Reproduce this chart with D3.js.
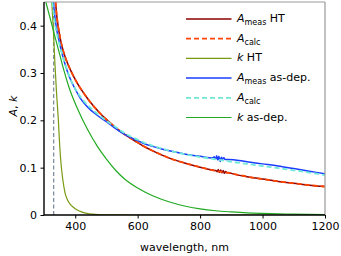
<!DOCTYPE html>
<html>
<head>
<meta charset="utf-8">
<script src="https://cdn.jsdelivr.net/npm/d3@7"></script>
<style>
  body { margin: 0; background: #fff; }
  text { font-family: "DejaVu Sans", sans-serif; }
</style>
</head>
<body>
<svg id="chart"></svg>
<script>
var width = 341;
var height = 256;
var margin = { top: 2, right: 16, bottom: 41, left: 44 };

// A_meas HT (dark red), with the noisy bit near 860 nm
var wlMeasHT = [337, 341, 345, 353, 361, 371, 385, 407, 433, 460, 480, 503, 525, 546, 575, 600, 620, 650, 680, 710, 750, 800, 840, 850, 855, 858, 862, 866, 870, 874, 878, 882, 886, 890, 900, 950, 1000, 1050, 1100, 1150, 1200];
var aMeasHT = [0.45, 0.42, 0.40, 0.37, 0.348, 0.328, 0.306, 0.278, 0.252, 0.229, 0.2145, 0.2, 0.187, 0.176, 0.163, 0.153, 0.145, 0.135, 0.126, 0.118, 0.110, 0.101, 0.095, 0.094, 0.0915, 0.096, 0.090, 0.095, 0.089, 0.094, 0.088, 0.092, 0.089, 0.090, 0.088, 0.081, 0.076, 0.071, 0.067, 0.063, 0.060];

// A_calc HT (dashed orangered)
var wlCalcHT = [337, 341, 345, 353, 361, 371, 385, 407, 433, 460, 480, 503, 525, 546, 575, 600, 620, 650, 680, 710, 750, 800, 850, 900, 950, 1000, 1050, 1100, 1150, 1200];
var aCalcHT = [0.45, 0.42, 0.40, 0.37, 0.348, 0.328, 0.306, 0.278, 0.252, 0.229, 0.2145, 0.2, 0.187, 0.176, 0.163, 0.153, 0.145, 0.135, 0.126, 0.118, 0.110, 0.101, 0.093, 0.088, 0.081, 0.076, 0.071, 0.067, 0.063, 0.060];

// k HT (olive)
var wlKHT = [325, 330, 335, 340, 346, 350, 355, 360, 367, 375, 385, 394, 405, 420, 437, 455, 475, 500, 550, 600, 800, 1000, 1200];
var kHT = [0.45, 0.39, 0.32, 0.26, 0.2, 0.15, 0.105, 0.076, 0.048, 0.032, 0.022, 0.0165, 0.011, 0.0065, 0.0036, 0.0018, 0.0008, 0.0003, 0.0001, 0, 0, 0, 0];

// A_meas as-dep. (blue), noisy near 860 nm
var wlMeasAD = [330, 333, 337, 342, 348, 356, 365, 375, 387, 400, 415, 430, 445, 460, 480, 500, 525, 546, 575, 600, 620, 650, 680, 710, 750, 800, 840, 845, 850, 853, 857, 860, 864, 868, 872, 876, 880, 890, 950, 1000, 1050, 1100, 1150, 1200];
var aMeasAD = [0.45, 0.43, 0.408, 0.387, 0.369, 0.346, 0.324, 0.303, 0.283, 0.266, 0.248, 0.235, 0.2245, 0.216, 0.206, 0.197, 0.1845, 0.175, 0.1645, 0.157, 0.151, 0.1445, 0.139, 0.1345, 0.129, 0.124, 0.1205, 0.123, 0.118, 0.125, 0.116, 0.124, 0.113, 0.122, 0.118, 0.121, 0.117, 0.1175, 0.1125, 0.108, 0.1035, 0.098, 0.0925, 0.087];

// A_calc as-dep. (dashed aquamarine)
var wlCalcAD = [327, 330, 334, 339, 345, 352, 360, 370, 382, 395, 410, 425, 440, 460, 480, 500, 525, 546, 575, 600, 620, 650, 680, 710, 750, 800, 850, 900, 950, 1000, 1050, 1100, 1150, 1200];
var aCalcAD = [0.45, 0.432, 0.41, 0.39, 0.372, 0.354, 0.335, 0.314, 0.292, 0.273, 0.256, 0.243, 0.232, 0.22, 0.209, 0.199, 0.188, 0.178, 0.167, 0.159, 0.153, 0.146, 0.14, 0.1345, 0.1285, 0.1225, 0.1175, 0.1125, 0.108, 0.1035, 0.099, 0.0945, 0.0895, 0.0845];

// k as-dep. (green)
var wlKAD = [306, 320, 331, 350, 364, 380, 407, 440, 471, 500, 530, 560, 600, 650, 700, 750, 800, 850, 900, 950, 1000, 1100, 1200];
var kAD = [0.45, 0.415, 0.387, 0.34, 0.305, 0.27, 0.225, 0.18, 0.145, 0.118, 0.094, 0.075, 0.057, 0.04, 0.028, 0.019, 0.013, 0.009, 0.0065, 0.0045, 0.0033, 0.0018, 0.001];

var cutoff = 331;  // dashed vertical marker
var xTicks = [400, 600, 800, 1000, 1200];
var yTicks = [0, 0.1, 0.2, 0.3, 0.4];

var series = [
  { wl: wlMeasHT, v: aMeasHT, color: "#8b0000", dash: null, w: 1.5, sub: "meas", label: " HT", sym: "A" },
  { wl: wlCalcHT, v: aCalcHT, color: "#ff4500", dash: "5,3", w: 1.8, sub: "calc", label: "", sym: "A" },
  { wl: wlKHT, v: kHT, color: "#789a12", dash: null, w: 1.2, sub: null, label: " HT", sym: "k" },
  { wl: wlMeasAD, v: aMeasAD, color: "#1a3cff", dash: null, w: 1.5, sub: "meas", label: " as-dep.", sym: "A" },
  { wl: wlCalcAD, v: aCalcAD, color: "#6fead6", dash: "5,3", w: 1.8, sub: "calc", label: "", sym: "A" },
  { wl: wlKAD, v: kAD, color: "#22aa22", dash: null, w: 1.2, sub: null, label: " as-dep.", sym: "k" }
];

var svg = d3.select("#chart").attr("width", width).attr("height", height);

var x = d3.scaleLinear().domain([300, 1200]).range([margin.left, width - margin.right]);
var y = d3.scaleLinear().domain([0, 0.45]).range([height - margin.bottom, margin.top]);

svg.append("clipPath").attr("id", "clip")
  .append("rect")
  .attr("x", margin.left).attr("y", margin.top)
  .attr("width", x(1200) - x(300)).attr("height", y(0) - y(0.45));

var g = svg.append("g").attr("clip-path", "url(#clip)");

g.append("line")
  .attr("x1", x(cutoff)).attr("x2", x(cutoff))
  .attr("y1", y(0)).attr("y2", y(0.45))
  .attr("stroke", "#778899").attr("stroke-width", 1.2)
  .attr("stroke-dasharray", "4,2.5");

var line = d3.line()
  .x(function (d) { return x(d[0]); })
  .y(function (d) { return y(d[1]); })
  .curve(d3.curveMonotoneX);

series.forEach(function (s) {
  var pts = s.wl.map(function (w, i) { return [w, s.v[i]]; });
  g.append("path")
    .datum(pts)
    .attr("fill", "none")
    .attr("stroke", s.color)
    .attr("stroke-width", s.w)
    .attr("stroke-dasharray", s.dash)
    .attr("d", line);
});

// axes
var xAxis = svg.append("g")
  .attr("transform", "translate(0," + y(0) + ")")
  .call(d3.axisBottom(x).tickValues(xTicks).tickSize(3.5).tickPadding(3.5).tickSizeOuter(0)
    .tickFormat(d3.format("d")));
var yAxis = svg.append("g")
  .attr("transform", "translate(" + margin.left + ",0)")
  .call(d3.axisLeft(y).tickValues(yTicks).tickSize(3.5).tickPadding(3.5).tickSizeOuter(0)
    .tickFormat(function (d) { return d === 0 ? "0" : d3.format(".1f")(d); }));

[xAxis, yAxis].forEach(function (a) {
  a.selectAll("text").attr("font-size", "11px").attr("fill", "#000").attr("font-family", "DejaVu Sans");
  a.selectAll("line").attr("stroke", "#000").attr("stroke-width", 1);
  a.select(".domain").remove();
});

// spines
svg.append("line").attr("x1", x(300)).attr("x2", x(1200)).attr("y1", y(0.45)).attr("y2", y(0.45))
  .attr("stroke", "#999").attr("stroke-width", 1.2);
svg.append("line").attr("x1", x(1200)).attr("x2", x(1200)).attr("y1", y(0)).attr("y2", y(0.45))
  .attr("stroke", "#999").attr("stroke-width", 1.2);
svg.append("line").attr("x1", x(300)).attr("x2", x(1200)).attr("y1", y(0)).attr("y2", y(0))
  .attr("stroke", "#000").attr("stroke-width", 1.4);
svg.append("line").attr("x1", x(300)).attr("x2", x(300)).attr("y1", y(0)).attr("y2", y(0.45))
  .attr("stroke", "#000").attr("stroke-width", 1.4);

// axis labels
svg.append("text")
  .attr("x", (x(300) + x(1200)) / 2).attr("y", 250.5)
  .attr("text-anchor", "middle").attr("font-size", "11px")
  .text("wavelength, nm");

var yl = svg.append("text")
  .attr("transform", "translate(17,106) rotate(-90)")
  .attr("text-anchor", "middle").attr("font-size", "11px");
yl.append("tspan").attr("font-style", "italic").text("A");
yl.append("tspan").text(", ");
yl.append("tspan").attr("font-style", "italic").text("k");

// legend
var legend = svg.append("g");
var lx0 = 186, lx1 = 231.5, rowY0 = 19, rowH = 19.7;
series.forEach(function (s, i) {
  var ry = rowY0 + i * rowH;
  legend.append("line")
    .attr("x1", lx0).attr("x2", lx1).attr("y1", ry).attr("y2", ry)
    .attr("stroke", s.color).attr("stroke-width", s.w)
    .attr("stroke-dasharray", s.dash);
  var t = legend.append("text")
    .attr("x", 237).attr("y", ry + 3).attr("font-size", "11px");
  t.append("tspan").attr("font-style", "italic").text(s.sym);
  if (s.sub) {
    t.append("tspan").attr("font-size", "8px").attr("dy", 3).text(s.sub);
    if (s.label) t.append("tspan").attr("dy", -3).text(s.label);
  } else {
    t.append("tspan").text(s.label);
  }
});
</script>
</body>
</html>
